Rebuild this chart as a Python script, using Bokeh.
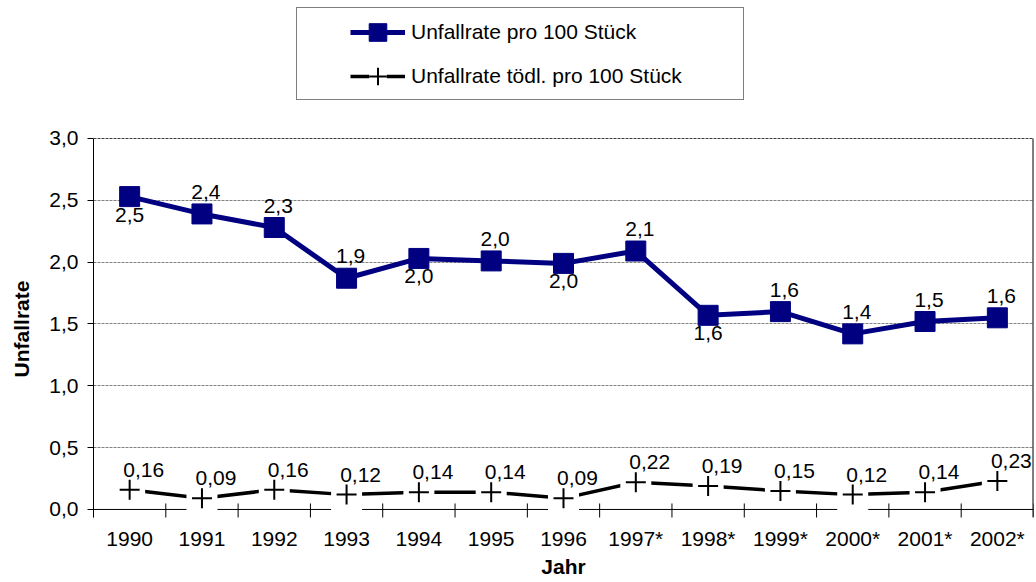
from bokeh.plotting import figure
from bokeh.models import (ColumnDataSource, Range1d, FixedTicker, CustomJSTickFormatter,
                          LabelSet, Legend, LegendItem, Span)
from bokeh.core.properties import value
from bokeh.embed import file_html
from bokeh.resources import INLINE

# ---------------- data ----------------
years = ["1990", "1991", "1992", "1993", "1994", "1995", "1996",
         "1997*", "1998*", "1999*", "2000*", "2001*", "2002*"]
rate = [2.53, 2.39, 2.28, 1.87, 2.03, 2.01, 1.99, 2.09, 1.57, 1.60, 1.42, 1.52, 1.55]
rate_fatal = [0.16, 0.09, 0.16, 0.12, 0.14, 0.14, 0.09, 0.22, 0.19, 0.15, 0.12, 0.14, 0.23]
rate_label_side = ["below", "above", "above", "above", "below", "above", "below",
                   "above", "below", "above", "above", "above", "above"]
y_ticks = [0.0, 0.5, 1.0, 1.5, 2.0, 2.5, 3.0]
series_names = ["Unfallrate pro 100 Stück", "Unfallrate tödl. pro 100 Stück"]
x_title = "Jahr"
y_title = "Unfallrate"

FONT = "Liberation Sans"
FS = "21px"
NAVY = "#000080"

n = len(years)
xs = list(range(n))
src = ColumnDataSource(dict(
    x=xs,
    rate=rate,
    fatal=rate_fatal,
    rate_lbl=[f"{v:.1f}".replace(".", ",") for v in rate],
    fatal_lbl=[f"{v:.2f}".replace(".", ",") for v in rate_fatal],
    rdx=[4 if s == "above" else 0 for s in rate_label_side],
    rdy=[22 if s == "above" else -18 for s in rate_label_side],
))

Y0 = -0.065          # frame bottom a little below zero (room for the crossing ticks)
YTOP = 4.116         # frame reaches the top of the canvas (room for the legend)
p = figure(width=1035, height=581, output_backend="svg", toolbar_location=None, tools="",
           x_range=Range1d(-0.5, n - 0.5), y_range=Range1d(Y0, YTOP),
           min_border_left=93, min_border_right=2, min_border_top=0, min_border_bottom=64)
p.outline_line_color = None
p.background_fill_color = "white"
p.border_fill_color = "white"

# axes
p.xaxis.ticker = FixedTicker(ticks=xs)
p.xaxis.major_label_overrides = {i: y for i, y in enumerate(years)}
p.xaxis.axis_line_color = None
p.xaxis.major_tick_line_color = None
p.xaxis.minor_tick_line_color = None
p.xaxis.major_tick_out = 0
p.xaxis.major_tick_in = 0
p.xaxis.major_label_standoff = 9
p.xaxis.major_label_text_font = FONT
p.xaxis.major_label_text_font_size = FS
p.xaxis.major_label_text_color = "black"
p.xaxis.axis_label = x_title
p.xaxis.axis_label_text_font = FONT
p.xaxis.axis_label_text_font_size = FS
p.xaxis.axis_label_text_font_style = "bold"
p.xaxis.axis_label_text_color = "black"
p.xaxis.axis_label_standoff = 2

p.yaxis.bounds = (Y0, y_ticks[-1])
p.yaxis.ticker = FixedTicker(ticks=y_ticks)
p.yaxis.formatter = CustomJSTickFormatter(code="return tick.toFixed(1).replace('.', ',');")
p.yaxis.axis_line_color = "black"
p.yaxis.major_tick_line_color = "black"
p.yaxis.minor_tick_line_color = None
p.yaxis.major_tick_in = 0
p.yaxis.major_tick_out = 6
p.yaxis.major_label_standoff = 9
p.yaxis.major_label_text_font = FONT
p.yaxis.major_label_text_font_size = FS
p.yaxis.major_label_text_color = "black"
# trailing no-break spaces move the (frame-centred) title down beside the plot area
p.yaxis.axis_label = y_title + "\u00a0" * 24
p.yaxis.axis_label_text_font = FONT
p.yaxis.axis_label_text_font_size = FS
p.yaxis.axis_label_text_font_style = "bold"
p.yaxis.axis_label_text_color = "black"
p.yaxis.axis_label_standoff = 13

p.xgrid.grid_line_color = None
p.ygrid.ticker = FixedTicker(ticks=[t for t in y_ticks if 0 < t < y_ticks[-1]])
p.ygrid.grid_line_color = "#808080"
p.ygrid.grid_line_dash = "3 1"
p.ygrid.grid_line_width = 1

p.add_layout(Span(location=y_ticks[-1], dimension="width", line_color="#404040",
                  line_dash="3 1", line_width=1))

# right border, x baseline and category boundary ticks
bounds = [i - 0.5 for i in range(n + 1)]
p.segment(x0=[bounds[-1]], y0=[Y0], x1=[bounds[-1]], y1=[y_ticks[-1]],
          line_color="black", line_width=2)
p.line(x=[bounds[0], bounds[-1]], y=[0, 0], line_color="black", line_width=1)
p.segment(x0=bounds, y0=[0.0485] * len(bounds), x1=bounds, y1=[Y0 - 0.02] * len(bounds),
          line_color="black", line_width=1)

# fatal series
r_fl = p.line("x", "fatal", source=src, line_color="black", line_width=3.5)
r_fb = p.scatter("x", "fatal", source=src, marker="square", size=31,
                 fill_color="white", line_color=None)
r_fp = p.scatter("x", "fatal", source=src, marker="cross", size=20,
                 line_color="black", line_width=2, fill_color=None)

# main series
r_rl = p.line("x", "rate", source=src, line_color=NAVY, line_width=5)
r_rs = p.scatter("x", "rate", source=src, marker="square", size=20,
                 fill_color=NAVY, line_color=NAVY)

# data labels
p.add_layout(LabelSet(x="x", y="rate", text="rate_lbl", source=src,
                      x_offset="rdx", y_offset="rdy",
                      text_align="center", text_baseline="middle",
                      text_font=value(FONT), text_font_size=value(FS), text_color="black"))
p.add_layout(LabelSet(x="x", y="fatal", text="fatal_lbl", source=src,
                      x_offset=14, y_offset=20,
                      text_align="center", text_baseline="middle",
                      text_font=value(FONT), text_font_size=value(FS), text_color="black"))

# legend box (frame only)
r_dummy = p.scatter(x=[0], y=[0], marker="square", size=1, fill_alpha=0, line_alpha=0)
box = Legend(items=[LegendItem(label=" ", renderers=[r_dummy])],
             location=(203, 417), padding=0, margin=0, spacing=0,
             glyph_width=446, glyph_height=91, label_width=0, label_height=0,
             label_standoff=0, label_text_font_size="1px",
             border_line_color="black", border_line_width=1,
             background_fill_color="white", background_fill_alpha=1)
p.add_layout(box, "center")

leg = Legend(items=[LegendItem(label=series_names[0], renderers=[r_rl, r_rs]),
                    LegendItem(label=series_names[1], renderers=[r_fl, r_fb, r_fp])],
             location=(257, 419), padding=0, margin=0, spacing=0,
             glyph_width=55, glyph_height=44, label_height=44, label_standoff=6,
             label_text_font=FONT, label_text_font_size=FS, label_text_color="black",
             border_line_color=None, background_fill_alpha=0)
p.add_layout(leg, "center")

open("out.html", "w").write(file_html(p, INLINE))
